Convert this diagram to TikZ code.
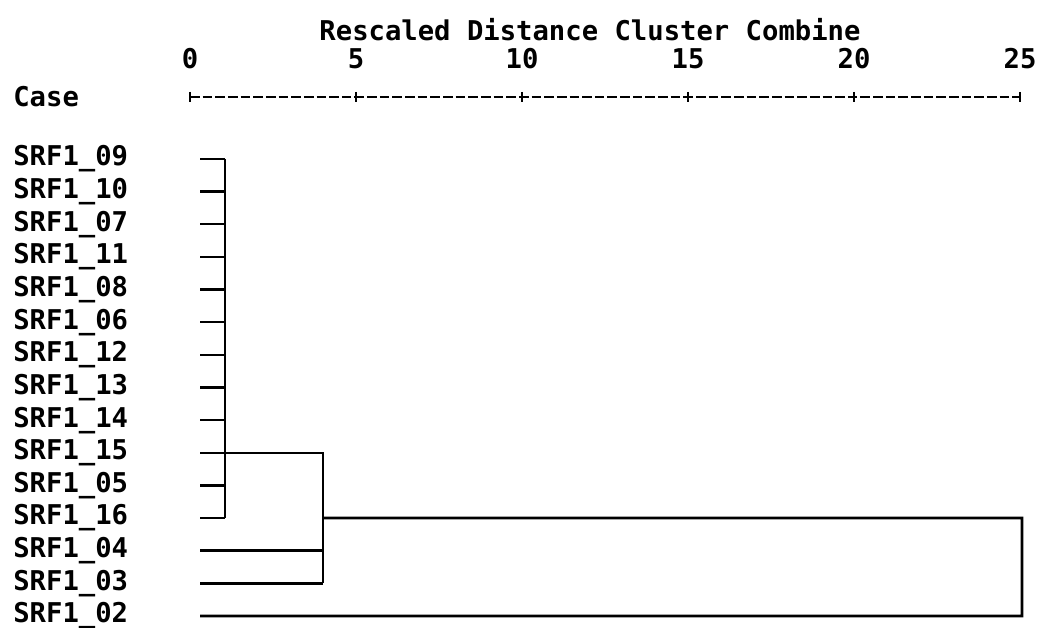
\documentclass[tikz,border=0pt]{standalone}
\usepackage{fontspec}
\setmonofont{DejaVu Sans Mono}
\usetikzlibrary{calc}
\begin{document}
\begin{tikzpicture}[x=0.02cm, y=-0.02cm,
	lbl/.style={font=\ttfamily\bfseries\fontsize{15.5}{17}\selectfont, inner sep=0pt},
	link/.style={line width=1.6pt},
	stub/.style={line width=1.3pt}]
	\useasboundingbox (0,0) rectangle (1039,628);

	% axis
	\node[lbl] (title) at (590,30) {Rescaled Distance Cluster Combine};
	\node[lbl, anchor=west] (case) at (13,97) {Case};
	\foreach \v [count=\i from 0] in {0,5,10,15,20,25} {
		\node[lbl] (n\v) at (190+166*\i,59) {\v};
		\coordinate (t\v) at (190+166*\i,97);
		\draw[line width=1.5pt] ($(t\v)+(0,-5)$) -- ($(t\v)+(0,5)$);
	}
	\draw[line width=0.9pt, dash pattern=on 5.5pt off 1.7pt] (t0) -- (t25);

	% cases
	\foreach \name [count=\i] in {09,10,07,11,08,06,12,13,14,15,05,16,04,03,02} {
		\node[lbl, anchor=west] (c\i) at (13,159+32.64*\i-32.64) {SRF1\_\name};
		\coordinate (s\i) at (200,159+32.64*\i-32.64);
	}

	\coordinate (j1) at (225,453);
	\coordinate (j2) at (323,453);
	\coordinate (j3) at (1022,518);

	\foreach \i in {1,...,12}
		\draw[stub] (s\i) -- (s\i -| j1);
	\draw[link] (s1 -| j1) -- (s12 -| j1);
	\draw[link] (j1) -- (j2) -- (s14 -| j2);
	\draw[link] (s13) -- (s13 -| j2);
	\draw[link] (s14) -- (s14 -| j2);
	\draw[link] (s12 -| j2) -- (j3) -- (s15 -| j3) -- (s15);

\end{tikzpicture}
\end{document}
